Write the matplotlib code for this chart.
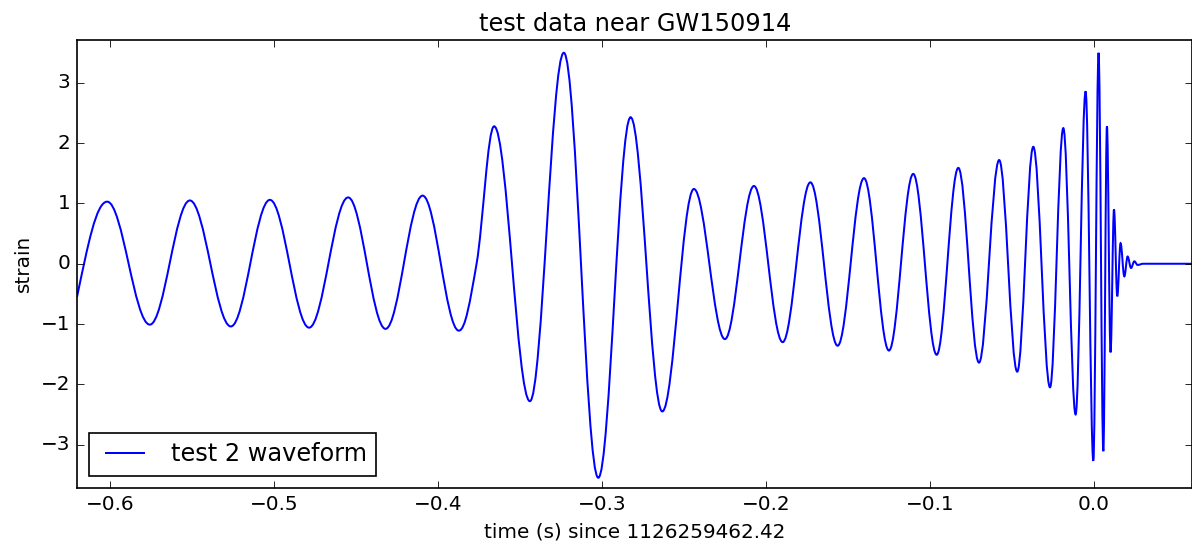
import numpy as np
import matplotlib
matplotlib.use("Agg")
import matplotlib.pyplot as plt
from matplotlib.path import Path
from matplotlib.patches import PathPatch
from matplotlib.lines import Line2D

# turning points of the test waveform (time since 1126259462.42 s, strain)
t_nodes = [-0.6200, -0.6016, -0.5756, -0.5512, -0.5262, -0.5024, -0.4785,
           -0.4547, -0.4319, -0.4093, -0.3872, -0.3764, -0.3657, -0.3439,
           -0.3232, -0.3022, -0.2825, -0.2632, -0.2439, -0.2250, -0.2073,
           -0.1898, -0.1729, -0.1563, -0.1402, -0.1250, -0.1102, -0.0959,
           -0.0827, -0.0701, -0.0578, -0.0468, -0.0370, -0.0268, -0.0187,
           -0.0112, -0.0051, -0.0004, 0.0028, 0.0057, 0.0079, 0.0101,
           0.0122, 0.0142, 0.0162, 0.0185, 0.0205, 0.0226, 0.0246, 0.0266,
           0.0300, 0.0600]
h_nodes = [-0.55, 1.03, -1.01, 1.05, -1.04, 1.06, -1.06,
           1.10, -1.08, 1.13, -1.11, 0.00, 2.28, -2.28,
           3.50, -3.55, 2.43, -2.45, 1.24, -1.25, 1.29,
           -1.30, 1.35, -1.36, 1.42, -1.44, 1.49, -1.51,
           1.59, -1.64, 1.72, -1.79, 1.94, -2.05, 2.25,
           -2.50, 2.86, -3.27, 3.50, -3.11, 2.28, -1.47,
           0.90, -0.54, 0.34, -0.21, 0.12, -0.07, 0.04, -0.02,
           0.00, 0.00]

title = "test data near GW150914"
xlabel = "time (s) since 1126259462.42"
ylabel = "strain"
legend_label = "test 2 waveform"


def node_slopes(t, h):
    # flat tangent at every turning point, neighbour slope elsewhere
    n = len(t)
    m = np.zeros(n)
    for i in range(n):
        if i == 0:
            m[i] = 1.5 * (h[1] - h[0]) / (t[1] - t[0])
        elif i == n - 1:
            m[i] = 0.0
        elif (h[i] - h[i - 1]) * (h[i + 1] - h[i]) <= 0:
            m[i] = 0.0
        else:
            m[i] = (h[i + 1] - h[i - 1]) / (t[i + 1] - t[i - 1])
    return m


def wave_path(t, h, k=0.3634):
    m = node_slopes(t, h)
    verts = [(t[0], h[0])]
    codes = [Path.MOVETO]
    for i in range(len(t) - 1):
        dt = t[i + 1] - t[i]
        verts.append((t[i] + k * dt, h[i] + m[i] * k * dt))
        verts.append((t[i + 1] - k * dt, h[i + 1] - m[i + 1] * k * dt))
        verts.append((t[i + 1], h[i + 1]))
        codes += [Path.CURVE4] * 3
    return Path(verts, codes)


plt.style.use("classic")
plt.rcParams["figure.facecolor"] = "white"
plt.rcParams["savefig.facecolor"] = "white"

dpi = 120
fig = plt.figure(figsize=(1192 / dpi, 546 / dpi), dpi=dpi)
ax = fig.add_axes([77 / 1192, 58 / 546, 1115.4 / 1192, 448.5 / 546])

ax.add_patch(PathPatch(wave_path(t_nodes, h_nodes), facecolor="none",
                       edgecolor="b", lw=1.2))
ax.set_xlim(-0.62, 0.06)
ax.set_ylim(-3.72, 3.72)
ax.set_xticks([-0.6, -0.5, -0.4, -0.3, -0.2, -0.1, 0.0])
ax.set_yticks([-3, -2, -1, 0, 1, 2, 3])

ax.set_title(title)
ax.set_xlabel(xlabel)
ax.set_ylabel(ylabel)
ax.legend(handles=[Line2D([], [], color="b", lw=1.2, label=legend_label)],
          loc="lower left", handlelength=2.2)

plt.savefig("out.png", dpi=dpi)
plt.close()
